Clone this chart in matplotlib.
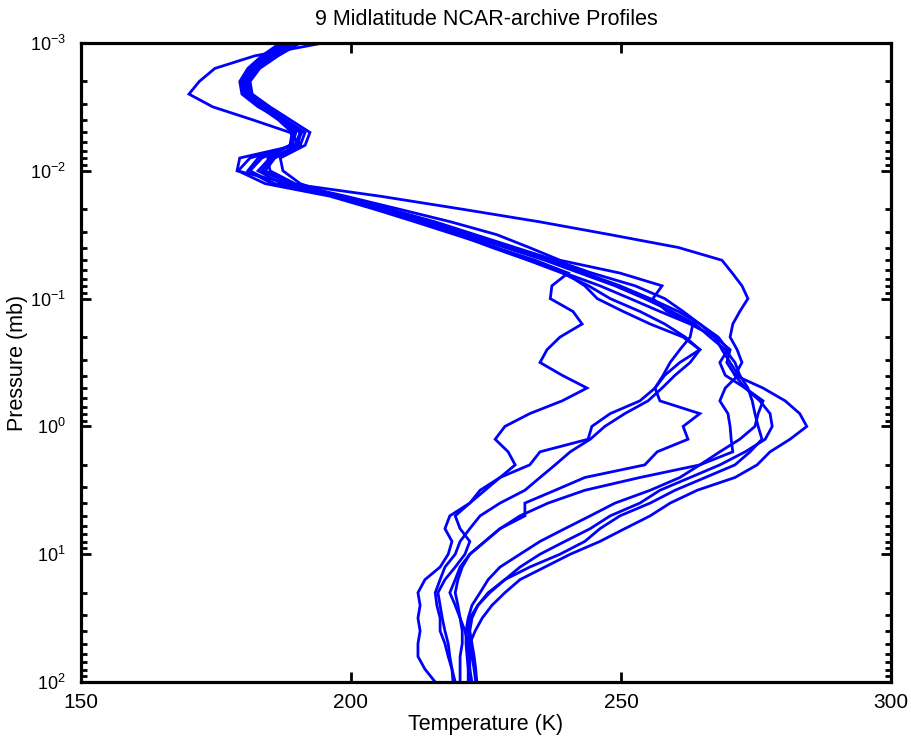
import numpy as np
import matplotlib
matplotlib.use("Agg")
import matplotlib.pyplot as plt
from matplotlib.ticker import LogLocator, NullFormatter

# pressure levels (mb), common to all profiles
pressure = [0.001, 0.00126, 0.00158, 0.002, 0.00251, 0.00316, 0.00398, 0.00501,
            0.00631, 0.00794, 0.01, 0.0126, 0.0158, 0.02, 0.0251, 0.0316, 0.0398,
            0.0501, 0.0631, 0.0794, 0.1, 0.126, 0.158, 0.2, 0.251, 0.316, 0.398,
            0.501, 0.631, 0.794, 1.0, 1.26, 1.58, 2.0, 2.51, 3.16, 3.98, 5.01,
            6.31, 7.94, 10.0, 12.6, 15.8, 20.0, 25.1, 31.6, 39.8, 50.1, 63.1,
            79.4, 100.0]

# temperature profiles (K)
prof_a = [186.9, 183.5, 180.9, 179.4, 179.8, 182.8, 187.2, 190.6, 189.6, 181.3, 179.1, 184.1,
          196.1, 204.4, 211.9, 219.3, 226.7, 234.1, 240.2, 237.2, 236.9, 241.1, 242.8, 238.7,
          236.3, 235.0, 239.1, 243.7, 239.1, 233.1, 228.5, 226.7, 229.1, 230.4, 227.6, 224.8,
          222.0, 218.3, 217.4, 218.7, 218.0, 216.5, 213.7, 212.4, 212.8, 212.4, 212.8, 212.4,
          212.4, 213.7, 215.6]
prof_b = [188.7, 185.4, 182.2, 180.4, 180.9, 184.6, 187.8, 190.6, 190.2, 185.4, 183.5, 188.7,
          199.0, 209.0, 218.5, 227.0, 233.0, 238.7, 249.8, 257.6, 255.9, 258.5, 263.3, 262.8,
          260.9, 259.1, 257.8, 256.3, 257.2, 264.6, 261.5, 262.4, 256.7, 254.4, 243.3, 237.8,
          232.2, 232.2, 227.6, 224.8, 222.0, 220.2, 219.3, 218.3, 219.3, 220.2, 221.1, 221.7,
          222.0, 222.0, 222.0]
prof_c = [187.4, 184.1, 181.3, 179.8, 180.2, 183.1, 186.5, 189.1, 188.7, 183.5, 181.3, 185.9,
          198.0, 205.9, 213.7, 220.6, 226.7, 233.5, 239.6, 243.3, 245.6, 250.4, 255.4, 261.5,
          264.6, 260.9, 258.1, 256.3, 253.5, 248.0, 244.6, 243.9, 235.0, 233.1, 227.6, 223.9,
          222.0, 219.3, 220.2, 222.0, 221.1, 219.3, 217.4, 216.1, 216.5, 216.9, 217.4, 218.0,
          218.3, 218.7, 218.9]
prof_d = [194.8, 182.2, 174.8, 171.9, 170.0, 174.4, 181.7, 188.7, 190.6, 185.0, 182.8, 187.2,
          197.0, 205.0, 212.8, 219.8, 226.1, 232.8, 239.1, 244.0, 248.0, 253.5, 258.1, 261.9,
          264.6, 262.8, 260.0, 257.6, 255.0, 250.7, 247.0, 244.3, 240.6, 237.8, 235.0, 232.2,
          227.6, 223.9, 222.0, 220.2, 219.3, 217.4, 216.5, 215.6, 215.9, 216.5, 216.5, 217.4,
          218.0, 218.7, 219.3]
prof_e = [189.6, 185.9, 182.8, 180.9, 181.3, 184.1, 187.8, 191.5, 190.6, 185.9, 184.1, 188.7,
          197.0, 205.4, 212.8, 220.2, 226.7, 233.1, 239.6, 246.1, 251.7, 257.2, 262.8, 267.4,
          270.2, 269.6, 271.1, 276.3, 280.4, 283.1, 284.4, 281.3, 277.6, 275.2, 271.1, 264.1,
          259.1, 255.4, 250.7, 246.1, 240.6, 235.9, 231.3, 228.5, 226.1, 224.3, 223.0, 222.0,
          221.7, 222.0, 222.4]
prof_g = [187.2, 184.1, 181.3, 180.0, 180.4, 183.5, 187.2, 189.6, 188.7, 184.6, 185.0, 189.6,
          198.0, 206.9, 215.0, 222.4, 229.8, 236.9, 243.3, 249.8, 255.4, 260.6, 264.6, 268.0,
          269.8, 268.3, 269.3, 273.0, 276.3, 275.4, 274.8, 272.0, 268.3, 264.6, 260.9, 255.4,
          248.9, 244.3, 239.6, 235.0, 231.3, 227.6, 225.4, 223.9, 222.4, 221.7, 221.3, 221.3,
          221.5, 221.7, 221.7]
prof_h = [190.6, 186.5, 183.1, 181.3, 181.7, 185.0, 188.7, 192.4, 191.5, 186.9, 187.4, 190.6,
          197.4, 205.7, 213.7, 221.1, 228.5, 235.9, 242.4, 248.9, 254.4, 259.4, 263.7, 266.5,
          269.3, 271.1, 272.0, 273.5, 274.3, 274.8, 275.4, 276.1, 273.9, 271.1, 265.6, 260.0,
          255.4, 249.8, 246.1, 243.3, 238.7, 233.1, 228.5, 225.4, 223.5, 222.4, 222.0, 222.4,
          222.8, 223.1, 223.3]
prof_i = [188.0, 184.6, 181.7, 180.2, 180.6, 183.9, 187.4, 189.8, 189.1, 182.8, 180.9, 185.4,
          198.3, 207.2, 215.6, 223.0, 230.4, 237.8, 244.6, 252.6, 258.1, 261.5, 264.6, 267.4,
          268.7, 270.2, 271.7, 269.3, 268.3, 269.8, 270.2, 270.4, 270.7, 264.6, 253.5, 243.3,
          236.5, 231.3, 227.6, 224.8, 222.0, 220.6, 219.8, 219.3, 219.8, 220.2, 220.6, 220.6,
          220.2, 220.2, 220.2]
prof_w = [189.1, 185.0, 182.2, 180.6, 180.9, 184.3, 187.6, 190.9, 189.8, 179.4, 178.9, 188.7,
          205.4, 220.7, 235.0, 248.0, 260.6, 268.7, 270.6, 272.4, 273.5, 272.0, 270.7, 270.2,
          271.5, 272.4, 271.1, 273.0, 275.7, 277.6, 278.0, 276.7, 273.0, 268.3, 262.8, 257.2,
          253.5, 248.0, 244.3, 239.6, 235.0, 231.3, 228.5, 225.7, 223.5, 222.0, 221.7, 222.0,
          222.4, 222.8, 223.1]

profiles = [prof_a, prof_b, prof_c, prof_d, prof_e, prof_g, prof_h, prof_i, prof_w]

plt.rcParams['font.family'] = ['Liberation Sans', 'DejaVu Sans']

fig = plt.figure(figsize=(9.12, 7.44), dpi=100)
ax = fig.add_axes([0.0888, 0.0833, 0.8882, 0.8589])

for t in profiles:
    ax.plot(t, pressure, color=(0, 0, 1), lw=2.0, solid_joinstyle='miter')

ax.set_yscale("log")
ax.set_xlim(150, 300)
ax.set_ylim(100, 1e-3)
ax.set_xticks([150, 200, 250, 300])
ax.yaxis.set_major_locator(LogLocator(base=10, numticks=10))
ax.yaxis.set_minor_locator(LogLocator(base=10, subs=np.arange(2, 10), numticks=10))
ax.yaxis.set_minor_formatter(NullFormatter())

for s in ax.spines.values():
    s.set_linewidth(2.3)
ax.tick_params(which="both", direction="in", top=True, right=True, width=2.0)
ax.tick_params(which="major", length=7)
ax.tick_params(which="minor", length=4)
ax.tick_params(axis="x", which="major", pad=8, labelsize=15)
ax.tick_params(axis="y", which="major", pad=11, labelsize=13)

ax.set_title("9 Midlatitude NCAR-archive Profiles", fontsize=15.5, pad=13)
ax.set_xlabel("Temperature (K)", fontsize=15.5, labelpad=1)
ax.set_ylabel("Pressure (mb)", fontsize=15.5)
ax.yaxis.set_label_coords(-0.066, 0.5)

fig.savefig("out.png", dpi=100)
